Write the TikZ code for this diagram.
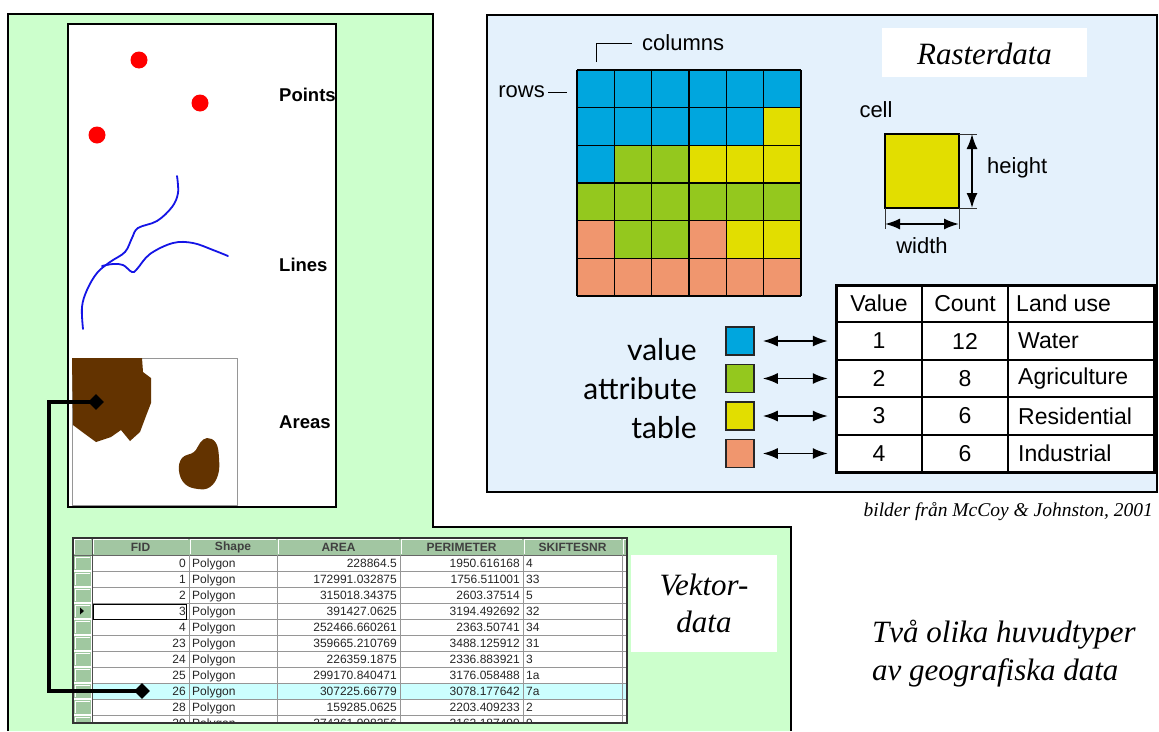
\documentclass[tikz,border=0pt]{standalone}
\usepackage{fontspec}
\setmainfont{Liberation Serif}
\setsansfont{Liberation Sans}
\newfontfamily\gill{Lato}
\usetikzlibrary{arrows.meta,shapes.geometric}
\definecolor{greenbg}{RGB}{204,255,204}
\definecolor{rasterbg}{RGB}{228,241,252}
\definecolor{cB}{RGB}{0,166,222}
\definecolor{cG}{RGB}{148,200,30}
\definecolor{cY}{RGB}{226,222,0}
\definecolor{cS}{RGB}{240,150,110}
\definecolor{brownA}{RGB}{99,51,0}
\definecolor{lineblue}{RGB}{20,20,230}
\definecolor{hdr}{RGB}{162,198,162}
\definecolor{btn}{RGB}{160,200,160}
\definecolor{hilite}{RGB}{204,255,255}
\definecolor{gridg}{RGB}{150,150,150}
\tikzset{
  lab/.style={font=\sffamily\bfseries\fontsize{18.5}{21}\selectfont, inner sep=0},
  sanslab/.style={font=\sffamily\fontsize{22}{26}\selectfont, inner sep=0},
  vatlab/.style={font=\sffamily\fontsize{23}{26}\selectfont, inner sep=0},
  tcell/.style={font=\sffamily\fontsize{12}{14}\selectfont, inner sep=0, text=black!85},
  thead/.style={font=\sffamily\bfseries\fontsize{12}{14}\selectfont, inner sep=0, text=black!75},
  ital/.style={font=\itshape\fontsize{31}{37}\selectfont, inner sep=0, align=center},
  gilltext/.style={font=\gill\fontsize{30}{34}\selectfont, inner sep=0},
  dbl/.style={{Latex[length=15,width=11]}-{Latex[length=15,width=11]}, line width=1.8},
  ext/.style={line width=0.8, black!80},
  panel/.style={line width=1.6, draw=black},
  dia/.style={diamond, fill=black, inner sep=0, minimum width=16, minimum height=16},
  vcell/.style={vatlab, minimum width=86, minimum height=37.5},
}
\begin{document}
\begin{tikzpicture}[x=1pt,y=-1pt]
\useasboundingbox (0,0) rectangle (1159,731);
\fill[white] (0,0) rectangle (1159,731);

% ---------- green vector region ----------
\fill[greenbg] (8,14) -- (433,14) -- (433,527) -- (791,527) -- (791,731) -- (8,731) -- cycle;
\draw[line width=1.6] (8,731) -- (8,14) -- (433,14) -- (433,527) -- (791,527) -- (791,731);

% white feature panel
\draw[panel, fill=white] (68,24) rectangle (336,507);
% points
\fill[red] (139,60) circle (8.5);
\fill[red] (200,103) circle (8.5);
\fill[red] (97,135) circle (8.5);
% lines
\draw[lineblue, line width=1.8, line cap=round] plot[smooth, tension=0.6] coordinates {(177,176) (178,193) (172,207) (157,221) (138,228) (132,238) (125,252) (110,262) (97,273) (87,290) (82,307) (83,329)};
\draw[lineblue, line width=1.8, line cap=round] plot[smooth, tension=0.6] coordinates {(102,266) (113,264) (123,265) (132,272) (137,269) (150,254) (173,243) (193,243) (213,250) (228,256)};
% areas
\draw[gridg, line width=1, fill=white] (72,358) rectangle (237,505);
\fill[brownA] (72,358) -- (142,358) -- (143,372) -- (151,378) -- (151,403) -- (146,416) -- (140,432) -- (130,441) -- (121,430) -- (111,437) -- (96,442) -- (85,434) -- (73,425) -- cycle;
\fill[brownA] plot[smooth cycle, tension=0.7] coordinates {(207,438) (216,443) (219,458) (218,475) (210,487) (198,489) (185,484) (179,471) (182,458) (194,452) (200,443)};

\node[lab, anchor=west] (lpoints) at (279,95) {Points};
\node[lab, anchor=west] (llines) at (279,265) {Lines};
\node[lab, anchor=west] (lareas) at (279,422) {Areas};

% ---------- attribute table (vector) ----------
\fill[white] (73,538) rectangle (627,723);
\begin{scope}
\clip (73,538) rectangle (627,723);
% header
\foreach \xa/\xb/\nm/\hd in {73/92/h0/{}, 92/189/h1/FID, 189/277/h2/Shape, 277/400/h3/AREA, 400/523/h4/PERIMETER, 523/622/h5/SKIFTESNR, 622/640/h6/{}}{
  \fill[hdr] (\xa,538) rectangle (\xb,555);
  \draw[white, line width=0.8] (\xa+1,554) -- (\xa+1,539) -- (\xb-1,539);
  \draw[black!60, line width=0.8] (\xa,555) -- (\xb,555);
  \draw[black!60, line width=0.8] (\xb,538) -- (\xb,555);
  \node[thead] (\nm) at ({(\xa+\xb)/2},547) {\hd};
}
% highlighted row 26
\fill[hilite] (92,683) rectangle (627,699);
% rows
\foreach \f/\s/\a/\p/\k [count=\i from 0] in {
  0/Polygon/228864.5/1950.616168/4,
  1/Polygon/172991.032875/1756.511001/33,
  2/Polygon/315018.34375/2603.37514/5,
  3/Polygon/391427.0625/3194.492692/32,
  4/Polygon/252466.660261/2363.50741/34,
  23/Polygon/359665.210769/3488.125912/31,
  24/Polygon/226359.1875/2336.883921/3,
  25/Polygon/299170.840471/3176.058488/1a,
  26/Polygon/307225.66779/3078.177642/7a,
  28/Polygon/159285.0625/2203.409233/2,
  29/Polygon/274261.908256/2162.187499/9}{
  \pgfmathsetmacro\yt{555+16*\i}
  \pgfmathsetmacro\yb{\yt+12.5}
  \fill[btn] (74,\yt+1) rectangle (91,\yt+15);
  \draw[white, line width=0.7] (75,\yt+14) -- (75,\yt+2) -- (90,\yt+2);
  \draw[gridg, line width=0.8] (92,\yt+16) -- (627,\yt+16);
  \node[tcell, anchor=base east] (fid\i) at (186,\yb) {\f};
  \node[tcell, anchor=base west] (shp\i) at (192,\yb) {\s};
  \node[tcell, anchor=base east] (area\i) at (397,\yb) {\a};
  \node[tcell, anchor=base east] (per\i) at (520,\yb) {\p};
  \node[tcell, anchor=base west] (sk\i) at (526,\yb) {\k};
}
\foreach \xx in {189,277,400,523,622}{
  \draw[gridg, line width=0.8] (\xx,555) -- (\xx,723);
}
\draw[black!70, line width=0.8] (92,538) -- (92,723);
% focus cell and row marker
\draw[black, line width=0.8] (93,604) rectangle (186,619);
\fill[black] (80,607.5) -- (84,611) -- (80,614.5) -- cycle;
\end{scope}
\draw[black!80, line width=1.5] (73,538) rectangle (627,723);

% Vektor-data label
\fill[white] (631,555) rectangle (777,652);
\node[ital] (vtitle) at (704,603) {Vektor-\\data};

% link between area and row
\node[dia] (dA) at (96,402) {};
\node[dia] (dR) at (142,691) {};
\coordinate (bend) at (49,402);
\draw[line width=3.5] (dA.center) -- (bend) |- (dR.center);

% ---------- raster panel ----------
\draw[panel, fill=rasterbg] (487,15) rectangle (1157,492);
\fill[white] (882,28) rectangle (1087,77);
\node[ital] (rtitle) at (984.5,54) {Rasterdata};

% grid
\foreach \row [count=\r from 0] in {{cB,cB,cB,cB,cB,cB},{cB,cB,cB,cB,cB,cY},{cB,cG,cG,cY,cY,cY},{cG,cG,cG,cG,cG,cG},{cS,cG,cG,cS,cY,cY},{cS,cS,cS,cS,cS,cS}}{
  \foreach \col [count=\c from 0] in \row {
    \fill[\col] ({577+37.333*\c},{70+37.667*\r}) rectangle ({577+37.333*(\c+1)},{70+37.667*(\r+1)});
  }
}
\foreach \k in {0,...,6}{
  \draw[line width=1.6] ({577+37.333*\k},70) -- ({577+37.333*\k},296);
  \draw[line width=1.6] (577,{70+37.667*\k}) -- (801,{70+37.667*\k});
}
\node[sanslab, anchor=west] (coltxt) at (642,43) {columns};
\coordinate (colfoot) at (596,62);
\draw[line width=1] (colfoot) |- ([xshift=-10]coltxt.west);
\node[sanslab, anchor=east] (rowtxt) at (545,92) {rows};
\coordinate (rowend) at (567,92);
\draw[line width=1] ([xshift=3]rowtxt.east) -- (rowend);

% cell
\node[sanslab] (celltxt) at (876,110) {cell};
\draw[line width=1.3, fill=cY] (885,134) rectangle (959,208);
\coordinate (ht) at (972,134);
\coordinate (hb) at (972,208);
\coordinate (wl) at (885,224);
\coordinate (wr) at (959,224);
\draw[ext] (959,134) -- (977,134);
\draw[ext] (959,208) -- (977,208);
\draw[ext] (885,208) -- (885,229);
\draw[ext] (959,208) -- (959,229);
\draw[dbl] (ht) -- (hb);
\draw[dbl] (wl) -- (wr);
\node[sanslab, anchor=west] (heighttxt) at (987,168) {height};
\node[sanslab] (widthtxt) at (922,246) {width};

% value attribute table
\fill[white] (836,285) rectangle (1154,472);
\foreach \yy in {322,360,397,435}{
  \draw[line width=1.5] (836,\yy) -- (1154,\yy);
}
\draw[line width=1.5] (922,285) -- (922,472);
\draw[line width=1.5] (1008,285) -- (1008,472);
\draw[line width=3] (836,285) rectangle (1154,472);
\node[vcell] (vh) at (879,303.5) {Value};
\node[vcell] (ch) at (965,303.5) {Count};
\node[vatlab, anchor=west] (lh) at (1016,303.5) {Land use};
\foreach \v/\n/\u/\yc [count=\j] in {1/12/Water/341, 2/8/Agriculture/378.5, 3/6/Residential/416, 4/6/Industrial/453.5}{
  \node[vcell] (v\j) at (879,\yc) {\v};
  \node[vcell] (c\j) at (965,\yc) {\n};
  \node[vatlab, anchor=west] (u\j) at (1018,\yc) {\u};
}
% legend squares
\foreach \cc/\yc [count=\j] in {cB/341, cG/378.5, cY/416, cS/453.5}{
  \node[draw=black!85, line width=1.5, fill=\cc, minimum width=28, minimum height=28, inner sep=0] (sq\j) at (740,\yc) {};
  \draw[dbl] ([xshift=8]sq\j.east) -- ([xshift=-8]v\j.west);
}
\node[gilltext, anchor=east] (tv) at (697,350) {value};
\node[gilltext, anchor=east] (ta) at (697,389) {attribute};
\node[gilltext, anchor=east] (tt) at (697,428) {table};

% credits and caption
\node[font=\itshape\fontsize{19.5}{22}\selectfont, inner sep=0, anchor=east] (credit) at (1153,512) {bilder från McCoy \& Johnston, 2001};
\node[font=\itshape\fontsize{31}{38}\selectfont, inner sep=0, anchor=west, align=left] (caption) at (872,654) {Två olika huvudtyper\\av geografiska data};
\end{tikzpicture}
\end{document}
